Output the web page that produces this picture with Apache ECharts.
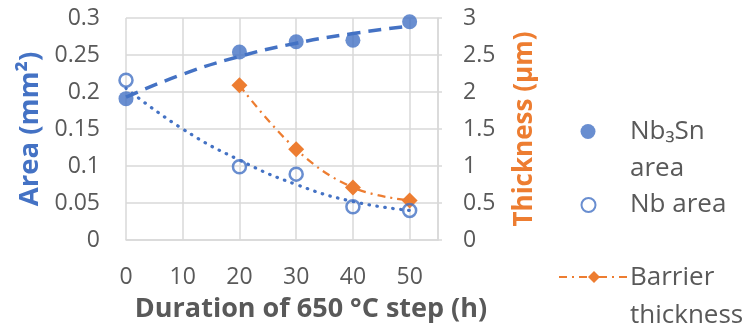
<!DOCTYPE html>
<html><head><meta charset="utf-8">
<script src="https://cdn.jsdelivr.net/npm/echarts@6/dist/echarts.min.js"></script>
<style>html,body{margin:0;padding:0;background:#fff}#c{width:749px;height:328px}</style>
</head><body><div id="c"></div>
<script>
const xTicks = [0, 10, 20, 30, 40, 50];
const sampleX = [0, 20, 30, 40, 50];
const nb3snArea = [0.191, 0.254, 0.268, 0.270, 0.295];
const nbArea = [0.216, 0.099, 0.089, 0.045, 0.040];
const barrierX = [20, 30, 40, 50];
const barrierThickness = [2.09, 1.225, 0.71, 0.535];
const trendX = [0, 10, 20, 30, 40, 50];
const nb3snTrend = [0.193, 0.224, 0.248, 0.266, 0.279, 0.289];
const nbTrend = [0.205, 0.150, 0.108, 0.075, 0.052, 0.040];
const legendLines = [['Nb₃Sn', 'area'], ['Nb area'], ['Barrier', 'thickness']];

const BLUE = '#4472C4', ORANGE = '#ED7D31', GRAY = '#595959', GRID = '#D9D9D9';
const FONT = 'Open Sans';
const zip = (xs, ys) => xs.map((x, i) => [x, ys[i]]);

const chart = echarts.init(document.getElementById('c'), null, {renderer: 'canvas'});
const noText = {fontSize: 1, lineHeight: 1, color: 'rgba(0,0,0,0)'};
const legendTextY = [[131, 168], [204], [277, 315]];
const graphics = [];
legendLines.forEach((lines, i) => lines.forEach((t, j) => graphics.push({
  type: 'text', left: 630, top: legendTextY[i][j] - 12, silent: true,
  style: {text: t, fill: GRAY, font: '26px "Open Sans"', textVerticalAlign: 'top'}
})));

chart.setOption({
  animation: false,
  textStyle: {fontFamily: FONT},
  grid: {left: 126, right: 311, top: 18, bottom: 83},
  xAxis: {
    type: 'value', min: 0, max: 55, interval: 10,
    axisLabel: {showMaxLabel: false, color: GRAY, fontSize: 23, margin: 26, fontFamily: FONT},
    axisLine: {lineStyle: {color: GRID, width: 1.5}},
    axisTick: {show: false},
    splitLine: {lineStyle: {color: GRID, width: 1.5}},
    name: 'Duration of 650 °C step (h)', nameLocation: 'middle', nameGap: 56,
    nameTextStyle: {color: GRAY, fontSize: 27, fontWeight: 'bold', fontFamily: FONT, padding: [0, 0, 0, 58]}
  },
  yAxis: [{
    type: 'value', min: 0, max: 0.3, interval: 0.05,
    axisLabel: {color: GRAY, fontSize: 23, margin: 26, fontFamily: FONT},
    axisLine: {show: false}, axisTick: {show: false},
    splitLine: {lineStyle: {color: GRID, width: 1.5}},
    name: 'Area (mm²)', nameLocation: 'middle', nameGap: 82,
    nameTextStyle: {color: BLUE, fontSize: 27.5, fontWeight: 'bold', fontFamily: FONT}
  }, {
    type: 'value', min: 0, max: 3, interval: 0.5, position: 'right',
    axisLabel: {color: GRAY, fontSize: 23, margin: 25, fontFamily: FONT},
    axisLine: {show: true, lineStyle: {color: GRID, width: 1.5}},
    axisTick: {show: true, length: 4, lineStyle: {color: GRID, width: 1.5}},
    splitLine: {show: false},
    name: 'Thickness (µm)', nameLocation: 'middle', nameGap: 74, nameRotate: 90,
    nameTextStyle: {color: ORANGE, fontSize: 26, fontWeight: 'bold', fontFamily: FONT}
  }],
  legend: [{
    left: 575.5, top: 130 - 11, itemWidth: 25, itemHeight: 15, selectedMode: false,
    data: ['Nb₃Sn area'], formatter: () => '', textStyle: noText
  }, {
    left: 575.5, top: 203 - 11, itemWidth: 25, itemHeight: 14, selectedMode: false,
    data: ['Nb area'], formatter: () => '', textStyle: noText
  }, {
    left: 553, top: 277 - 11, itemWidth: 70, itemHeight: 15, selectedMode: false,
    data: ['Barrier thickness'], formatter: () => '', textStyle: noText
  }],
  graphic: graphics,
  series: [{
    name: 'Nb₃Sn trend', type: 'line', data: zip(trendX, nb3snTrend), smooth: true,
    showSymbol: false, z: 1,
    lineStyle: {color: BLUE, width: 3.5, type: [13, 8]}
  }, {
    name: 'Nb trend', type: 'line', data: zip(trendX, nbTrend), smooth: true,
    showSymbol: false, z: 1,
    lineStyle: {color: BLUE, width: 3.2, type: [0.5, 7.5], cap: 'round'}
  }, {
    name: 'Barrier thickness', type: 'line', yAxisIndex: 1, data: zip(barrierX, barrierThickness),
    smooth: 0.4, symbol: 'diamond', symbolSize: 16, z: 3,
    itemStyle: {color: ORANGE},
    lineStyle: {color: ORANGE, width: 2.25, type: [8, 5, 2, 5]}
  }, {
    name: 'Nb₃Sn area', type: 'scatter', data: zip(sampleX, nb3snArea),
    symbol: 'circle', symbolSize: 15, z: 4, itemStyle: {color: BLUE}
  }, {
    name: 'Nb area', type: 'scatter', data: zip(sampleX, nbArea),
    symbol: 'circle', symbolSize: 13, z: 4,
    itemStyle: {color: 'rgba(255,255,255,0)', borderColor: BLUE, borderWidth: 2.5}
  }]
});
</script></body></html>
